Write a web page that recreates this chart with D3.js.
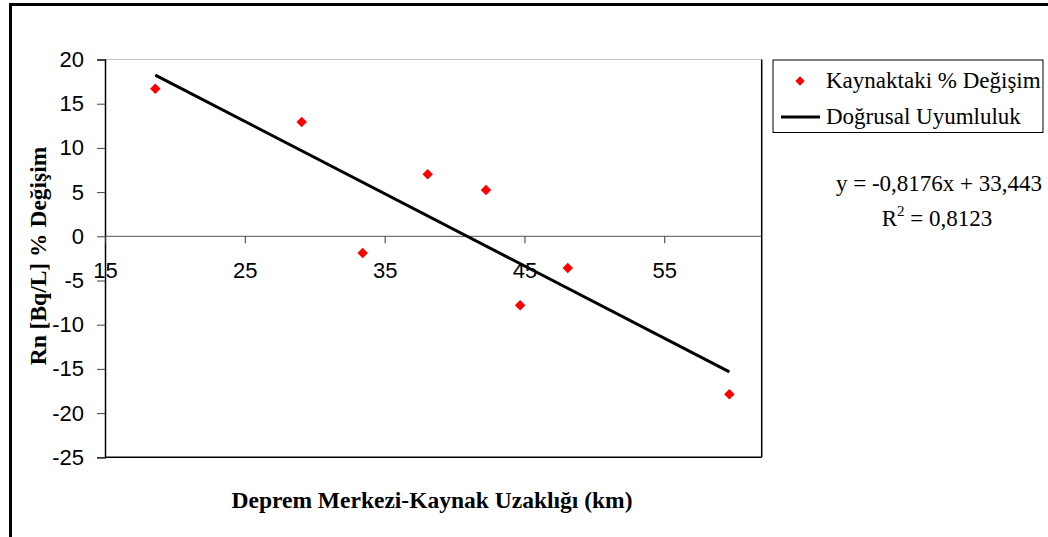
<!DOCTYPE html>
<html>
<head>
<meta charset="utf-8">
<script src="https://cdn.jsdelivr.net/npm/d3@7"></script>
<style>
  html, body { margin: 0; padding: 0; background: #fff; }
  svg { display: block; }
</style>
</head>
<body>
<svg id="chart" width="1048" height="537"></svg>
<script>
// Distance from epicentre to spring (km) and radon change (%)
const distanceKm = [18.6, 29.07, 33.43, 38.08, 42.25, 44.69, 48.1, 59.66];
const radonChange = [16.7, 12.93, -1.89, 7.01, 5.24, -7.8, -3.59, -17.87];

// Linear fit reported on the chart
const fitSlope = -0.8176;
const fitIntercept = 33.443;
const fitLabel = "y = -0,8176x + 33,443";
const r2Value = "0,8123";

const xTicks = [15, 25, 35, 45, 55];
const yTicks = [20, 15, 10, 5, 0, -5, -10, -15, -20, -25];

const seriesName = "Kaynaktaki % Değişim";
const fitName = "Doğrusal Uyumluluk";
const xTitle = "Deprem Merkezi-Kaynak Uzaklığı (km)";
const yTitle = "Rn [Bq/L] % Değişim";

const svg = d3.select("#chart");

// Outer chart frame (runs off the right and bottom edges)
svg.append("rect")
  .attr("x", 10.5).attr("y", 4.5)
  .attr("width", 1100).attr("height", 600)
  .attr("fill", "none").attr("stroke", "#000").attr("stroke-width", 3);

const plot = { left: 105, right: 761.7, top: 59.5, bottom: 457.3 };

const x = d3.scaleLinear().domain([15, 61.97]).range([plot.left, plot.right]);
const y = d3.scaleLinear().domain([-25, 20]).range([plot.bottom, plot.top]);

const axisFont = "Arial, 'Liberation Sans', sans-serif";
const serifFont = "'Times New Roman', 'Liberation Serif', serif";
const plainNumber = d => String(d);

// Plot area border
svg.append("line")
  .attr("x1", plot.left).attr("x2", plot.right)
  .attr("y1", plot.top).attr("y2", plot.top)
  .attr("stroke", "#c0c0c0").attr("stroke-width", 1);
svg.append("line")
  .attr("x1", plot.right).attr("x2", plot.right)
  .attr("y1", plot.top).attr("y2", plot.bottom)
  .attr("stroke", "#000").attr("stroke-width", 1.5);
svg.append("line")
  .attr("x1", plot.left).attr("x2", plot.right)
  .attr("y1", plot.bottom).attr("y2", plot.bottom)
  .attr("stroke", "#000").attr("stroke-width", 1.5);

// Y axis
const yAxis = svg.append("g")
  .attr("transform", `translate(${plot.left},0)`)
  .call(d3.axisLeft(y).tickValues(yTicks).tickSize(8).tickPadding(13).tickFormat(plainNumber));
yAxis.select(".domain").attr("stroke", "#000").attr("stroke-width", 1.5);
yAxis.selectAll(".tick line").attr("stroke", "#444");
yAxis.selectAll("text")
  .attr("font-family", axisFont).attr("font-size", 22).attr("fill", "#000");

// X axis crossing at y = 0
const xAxis = svg.append("g")
  .attr("transform", `translate(0,${y(0)})`)
  .call(d3.axisBottom(x).tickValues(xTicks).tickSize(7).tickPadding(19).tickFormat(plainNumber));
xAxis.select(".domain").attr("stroke", "#555").attr("stroke-width", 1).attr("d", `M${plot.left},0H${plot.right}`);
xAxis.selectAll(".tick line").attr("stroke", "#333");
xAxis.selectAll("text")
  .attr("font-family", axisFont).attr("font-size", 22).attr("fill", "#000");

// Trend line from the fitted equation over the data range
const xMin = d3.min(distanceKm), xMax = d3.max(distanceKm);
const fitPoints = [xMin, xMax].map(v => [v, fitSlope * v + fitIntercept]);
svg.append("path")
  .attr("d", d3.line().x(d => x(d[0])).y(d => y(d[1]))(fitPoints))
  .attr("fill", "none").attr("stroke", "#000").attr("stroke-width", 3);

// Data markers
const diamond = d3.symbol().type(d3.symbolDiamond2).size(70);
svg.append("g").selectAll("path")
  .data(distanceKm.map((d, i) => [d, radonChange[i]]))
  .join("path")
  .attr("d", diamond)
  .attr("transform", d => `translate(${x(d[0])},${y(d[1])})`)
  .attr("fill", "#ff0000");

// Axis titles
svg.append("text")
  .attr("x", 432).attr("y", 508)
  .attr("text-anchor", "middle")
  .attr("font-family", serifFont).attr("font-weight", "bold").attr("font-size", 23.5)
  .text(xTitle);

svg.append("text")
  .attr("transform", "translate(46,256) rotate(-90)")
  .attr("text-anchor", "middle")
  .attr("font-family", serifFont).attr("font-weight", "bold").attr("font-size", 23.5)
  .text(yTitle);

// Legend
const legend = svg.append("g");
legend.append("rect")
  .attr("x", 773).attr("y", 60).attr("width", 270).attr("height", 72.5)
  .attr("fill", "#fff").attr("stroke", "#000").attr("stroke-width", 1);
legend.append("path")
  .attr("d", d3.symbol().type(d3.symbolDiamond2).size(55))
  .attr("transform", "translate(800,81)")
  .attr("fill", "#ff0000");
legend.append("text")
  .attr("x", 826).attr("y", 88)
  .attr("font-family", serifFont).attr("font-size", 23)
  .text(seriesName);
legend.append("line")
  .attr("x1", 781).attr("x2", 820).attr("y1", 117).attr("y2", 117)
  .attr("stroke", "#000").attr("stroke-width", 3);
legend.append("text")
  .attr("x", 826).attr("y", 124)
  .attr("font-family", serifFont).attr("font-size", 23)
  .text(fitName);

// Fit equation and R²
svg.append("text")
  .attr("x", 939).attr("y", 191)
  .attr("text-anchor", "middle")
  .attr("font-family", serifFont).attr("font-size", 23)
  .text(fitLabel);
const r2 = svg.append("text")
  .attr("x", 937).attr("y", 226)
  .attr("text-anchor", "middle")
  .attr("font-family", serifFont).attr("font-size", 23);
r2.append("tspan").text("R");
r2.append("tspan").attr("dy", -10).attr("font-size", 15).text("2");
r2.append("tspan").attr("dy", 10).text(" = " + r2Value);
</script>
</body>
</html>
